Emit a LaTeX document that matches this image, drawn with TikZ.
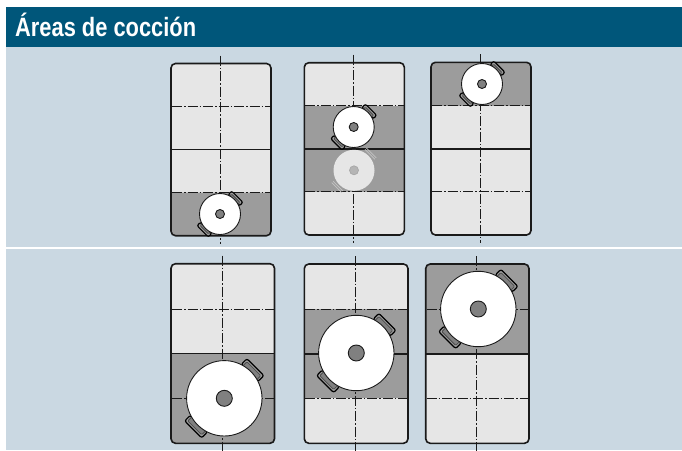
\documentclass[tikz,border=0pt]{standalone}
\usepackage{fontspec}
\setmainfont{Liberation Sans}
\definecolor{headblue}{HTML}{00567A}
\definecolor{panelbg}{HTML}{CAD8E2}
\definecolor{zonelight}{HTML}{E6E6E6}
\definecolor{zonedark}{HTML}{9C9C9C}
\definecolor{hubgrey}{HTML}{808080}
\definecolor{inkdark}{HTML}{1A1A1A}
\definecolor{ghostedge}{HTML}{C4C4C4}
\tikzset{
  axisline/.style={draw=inkdark,line width=1pt,dash pattern=on 10pt off 2pt on 1.5pt off 2pt},
  outline/.style={draw=inkdark,line width=1.6pt},
  potline/.style={draw=inkdark,line width=0.9pt},
}
% #1 x-left, #2 x-right, #3 y-top, #4 y-mid, #5 y-bottom, #6 y-dash1, #7 y-dash2, #8 x-axis
\newcommand{\hobdash}[8]{%
  \draw[axisline] (#1+1,#6) -- (#2,#6);
  \draw[axisline] (#1+1,#7) -- (#2,#7);
  \draw[axisline] (#8,#3-8) -- (#8,#5+8);
  \draw[outline] (#1,#4) -- (#2,#4);
  \draw[outline,rounded corners=4.5pt] (#1,#3) rectangle (#2,#5);
}
% #1 cx, #2 cy, #3 r, #4 hub r, #5 handle dist, #6 handle length, #7 handle width
\newcommand{\potshape}[7]{%
  \begin{scope}[shift={(#1,#2)}]
    \foreach \ang in {45,225}{
      \begin{scope}[rotate=\ang]
        \draw[draw=black,line width=1.2pt,fill=zonedark,rounded corners=2pt] (#5-#7/2,-#6/2) rectangle (#5+#7/2,#6/2);
        \draw[draw=black!70!white,line width=0.8pt,fill=hubgrey,rounded corners=1pt] (#5-#7/2,-#6/2+2.2) rectangle (#5+#7/2-2.2,#6/2-2.2);
      \end{scope}
    }
    \fill[white] (0,0) circle (#3);
    \draw[potline] (0,0) circle (#3);
    \draw[potline,fill=hubgrey] (0,0) circle (#4);
  \end{scope}
}
\begin{document}
\begin{tikzpicture}[x=1pt,y=-1pt]
\useasboundingbox (0,0) rectangle (682,450);
\fill[white] (0,0) rectangle (682,450);
\fill[panelbg] (6,47) rectangle (682,450);
\fill[white] (6,246.8) rectangle (682,249);
\fill[headblue] (6,7) rectangle (682,47);
\node[anchor=west,text=white,inner sep=0pt,font=\bfseries\fontsize{26.5}{26.5}\selectfont,xscale=0.825] (title) at (15,25) {Áreas de cocción};

% A
\fill[zonelight,rounded corners=4pt] (171,63.5) rectangle (271,235.7);
\fill[zonedark,rounded corners=4pt] (171,192.7) rectangle (271,235.7);
\fill[zonedark] (171,192.7) rectangle (271,200);
\hobdash{171}{271}{63.5}{149.3}{235.7}{106.3}{192.7}{220.3}
\potshape{220}{214}{20.5}{4.5}{22}{16}{5}

% B
\fill[zonelight,rounded corners=4pt] (304.3,62.7) rectangle (404.3,235);
\fill[zonedark] (304.3,105.7) rectangle (404.3,191.7);
\hobdash{304.3}{404.3}{62.7}{148.7}{235}{105.7}{191.7}{353.7}
\potshape{353.7}{127}{20.5}{4.5}{22}{16}{5}
\begin{scope}[shift={(354,170.3)}]
  \foreach \ang in {45,225}{
    \begin{scope}[rotate=\ang]
      \draw[ghostedge,line width=0.7pt] (22.5,-7) -- (22.5,7);
      \draw[ghostedge,line width=0.7pt] (24.5,-7) -- (24.5,7);
    \end{scope}
  }
  \fill[zonelight] (0,0) circle (20.5);
  \draw[ghostedge!85!black,line width=0.7pt,fill=zonedark!75!white] (0,0) circle (4.5);
\end{scope}

% C
\fill[zonelight,rounded corners=4pt] (431,62.3) rectangle (531,235);
\fill[zonedark,rounded corners=4pt] (431,62.3) rectangle (531,105.7);
\fill[zonedark] (431,98) rectangle (531,105.7);
\hobdash{431}{531}{62.3}{148.7}{235}{105.7}{191.7}{480.7}
\potshape{482}{84}{20.5}{4.5}{22}{16}{5}

% D
\fill[zonelight,rounded corners=4pt] (171,263.7) rectangle (274.5,443.3);
\fill[zonedark,rounded corners=4pt] (171,353.3) rectangle (274.5,443.3);
\fill[zonedark] (171,353.3) rectangle (274.5,365);
\hobdash{171}{274.5}{263.7}{353.3}{443.3}{309}{398.3}{222}
\potshape{224.3}{398.3}{37.7}{8}{40}{24}{8}

% E
\fill[zonelight,rounded corners=4pt] (304.3,264) rectangle (408,443.3);
\fill[zonedark] (304.3,309) rectangle (408,398.3);
\hobdash{304.3}{408}{264}{354}{443.3}{309}{398.3}{355.5}
\potshape{356.3}{353}{37.7}{8}{40}{24}{8}

% F
\fill[zonelight,rounded corners=4pt] (425.7,264) rectangle (529,443.3);
\fill[zonedark,rounded corners=4pt] (425.7,264) rectangle (529,354);
\fill[zonedark] (425.7,340) rectangle (529,354);
\hobdash{425.7}{529}{264}{354}{443.3}{309}{398.3}{476.7}
\potshape{478.3}{309}{37.7}{8}{40}{24}{8}
\end{tikzpicture}
\end{document}
